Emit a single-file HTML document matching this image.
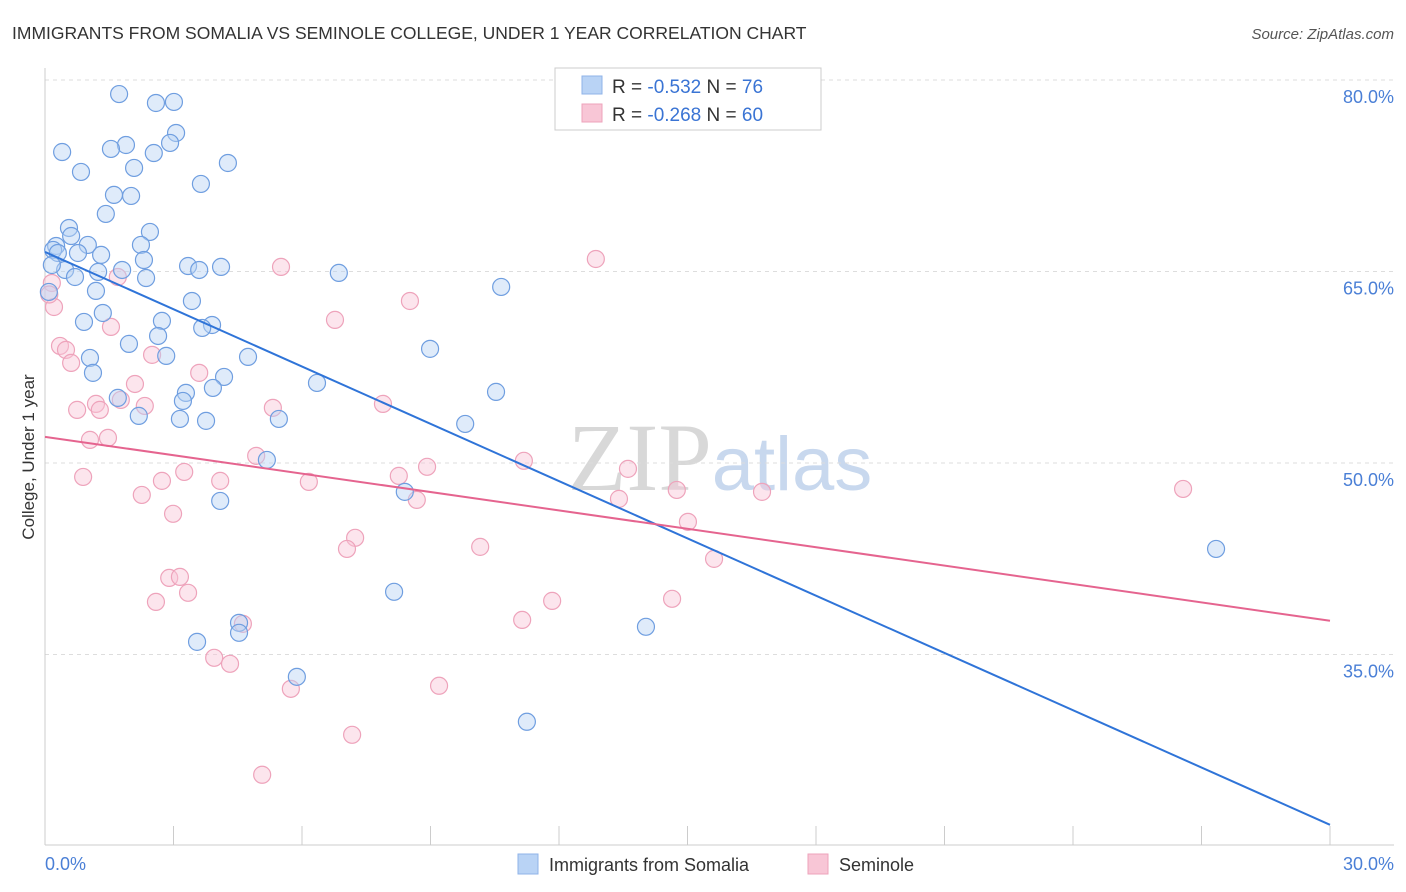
<!DOCTYPE html>
<html><head><meta charset="utf-8"><style>
body{margin:0;background:#fff;font-family:"Liberation Sans",sans-serif;}
svg{display:block}
</style></head><body>
<svg id="chart" width="1406" height="892" xmlns="http://www.w3.org/2000/svg">
<text x="12" y="39" font-size="17.5" fill="#333">IMMIGRANTS FROM SOMALIA VS SEMINOLE COLLEGE, UNDER 1 YEAR CORRELATION CHART</text>
<text x="1394" y="39" font-size="15" font-style="italic" fill="#555" text-anchor="end">Source: ZipAtlas.com</text>
<text x="720" y="490" font-size="96" text-anchor="middle"><tspan fill="#d8d8d8" font-family="Liberation Serif,serif">ZIP</tspan><tspan fill="#c8d8ee" font-size="76">atlas</tspan></text>
<g id="grid"></g>
<g id="ticks"></g>
<line x1="45" y1="68" x2="45" y2="845" stroke="#ccc"/>
<line x1="45" y1="845" x2="1394" y2="845" stroke="#ccc"/>
<g id="pts"></g>
<g id="lines"></g>
<text transform="translate(34,457) rotate(-90)" font-size="17" fill="#333" text-anchor="middle">College, Under 1 year</text>
<text x="45" y="870" font-size="18" fill="#4a7fd6">0.0%</text>
<text x="1394" y="870" font-size="18" fill="#4a7fd6" text-anchor="end">30.0%</text>
<g>
<rect x="555" y="68" width="266" height="62" fill="#fff" stroke="#ccc"/>
<rect x="582" y="76" width="20" height="18" fill="#b9d3f5" stroke="#8fb3e8"/>
<rect x="582" y="104" width="20" height="18" fill="#f8c6d6" stroke="#eea3bb"/>
<text x="612" y="93" font-size="19" fill="#333">R = <tspan fill="#3a74d4">-0.532</tspan>   N = <tspan fill="#3a74d4">76</tspan></text>
<text x="612" y="121" font-size="19" fill="#333">R = <tspan fill="#3a74d4">-0.268</tspan>   N = <tspan fill="#3a74d4">60</tspan></text>
</g>
<g>
<rect x="518" y="854" width="20" height="20" fill="#b9d3f5" stroke="#8fb3e8"/>
<text x="549" y="871" font-size="18" fill="#333">Immigrants from Somalia</text>
<rect x="808" y="854" width="20" height="20" fill="#f8c6d6" stroke="#eea3bb"/>
<text x="839" y="871" font-size="18" fill="#333">Seminole</text>
</g>
</svg>
<script>
const yTicks=[80,65,50,35];
const yTickLabels=["80.0%","65.0%","50.0%","35.0%"];
const xTicks=[0,3,6,9,12,15,18,21,24,27,30];
const blueX=[1.73,2.59,3.01,3.06,1.89,1.54,0.40,2.54,2.92,4.27,0.84,2.08,3.64,1.61,2.01,1.42,0.56,2.45,0.61,0.26,1.00,2.24,0.19,0.30,0.77,1.31,2.31,0.47,1.24,3.34,3.60,4.11,1.80,2.36,6.86,0.70,0.09,1.19,10.65,3.43,1.35,0.91,2.73,3.90,3.67,2.64,1.96,8.99,1.05,2.83,4.74,1.12,4.18,6.35,3.29,3.92,10.53,1.70,3.22,2.19,3.15,3.76,5.46,9.81,5.18,8.40,4.09,27.34,8.15,4.53,4.53,14.03,3.55,5.88,11.25,0.16];
const blueY=[78.90,78.20,78.28,75.85,74.91,74.60,74.36,74.28,75.07,73.50,72.80,73.11,71.86,71.00,70.92,69.51,68.41,68.10,67.78,67.00,67.08,67.08,66.69,66.45,66.45,66.30,65.90,65.12,64.97,65.43,65.12,65.36,65.12,64.49,64.89,64.57,63.40,63.48,63.79,62.69,61.75,61.05,61.13,60.81,60.58,59.95,59.33,58.94,58.23,58.39,58.31,57.06,56.74,56.27,55.49,55.88,55.57,55.10,54.86,53.69,53.45,53.30,53.45,53.06,50.24,47.74,47.03,43.27,39.91,37.48,36.70,37.17,35.99,33.25,29.73,65.51];
const pinkX=[0.16,0.21,1.70,5.51,12.86,8.52,6.77,1.54,0.35,0.49,0.61,2.50,3.60,2.10,1.77,1.19,2.33,1.28,0.75,7.89,5.32,1.05,1.47,4.93,11.18,3.25,8.92,13.61,0.89,2.73,4.09,8.26,6.16,14.75,16.74,26.57,2.26,8.68,13.40,2.99,15.01,7.24,7.05,10.16,15.62,2.90,3.15,3.34,2.59,11.84,14.64,11.14,4.62,3.95,4.32,5.74,9.20,7.17,5.07,0.10];
const pinkY=[64.10,62.22,64.57,65.36,65.98,62.69,61.21,60.66,59.17,58.86,57.84,58.47,57.06,56.19,54.94,54.63,54.47,54.16,54.16,54.63,54.32,51.81,51.97,50.56,50.17,49.30,49.70,49.54,48.91,48.60,48.60,48.99,48.52,47.89,47.74,47.97,47.50,47.11,47.19,46.02,45.39,44.14,43.27,43.43,42.49,41.00,41.08,39.83,39.12,39.20,39.36,37.71,37.40,34.74,34.27,32.31,32.55,28.71,25.58,63.20];
const blueTrend=[66.53,21.66];
const pinkTrend=[52.05,37.64];
const NS="http://www.w3.org/2000/svg";
const X=v=>45+v/30*1285;
const Y=v=>80+(80-v)/15*191.5;
function mk(t,a,p){const e=document.createElementNS(NS,t);for(const k in a)e.setAttribute(k,a[k]);p.appendChild(e);return e;}
const grid=document.getElementById('grid');
yTicks.forEach((t,i)=>{
 const l=mk('line',{x1:45,x2:1394,y1:Y(t),y2:Y(t),stroke:'#ddd','stroke-dasharray':'4,4'},grid);
 
 
 const tx=mk('text',{x:1394,y:Y(t)+23,'font-size':18,fill:'#4a7fd6','text-anchor':'end'},grid);
 tx.textContent=yTickLabels[i];
 
 
});
const tk=document.getElementById('ticks');
xTicks.forEach(t=>{
 const l=mk('line',{x1:X(t),x2:X(t),y1:826,y2:845,stroke:'#ccc'},tk);
 
 
});
const pts=document.getElementById('pts');
function draw(xs,ys,fill,stroke,name){
 xs.forEach((x,i)=>{
  const c=mk('circle',{cx:X(x),cy:Y(ys[i]),r:8.5,fill:fill,'fill-opacity':0.45,stroke:stroke,'stroke-width':1.2},pts);
  
  
 });
}
draw(pinkX,pinkY,'#f8c6d6','#eea3bb','seminole-point');
draw(blueX,blueY,'#b9d3f5','#6f9ee0','somalia-point');
const lg=document.getElementById('lines');
const b=mk('line',{x1:X(0),y1:Y(blueTrend[0]),x2:X(30),y2:Y(blueTrend[1]),stroke:'#2f74d8','stroke-width':2},lg);


const p=mk('line',{x1:X(0),y1:Y(pinkTrend[0]),x2:X(30),y2:Y(pinkTrend[1]),stroke:'#e5648f','stroke-width':2},lg);


</script>
</body></html>
